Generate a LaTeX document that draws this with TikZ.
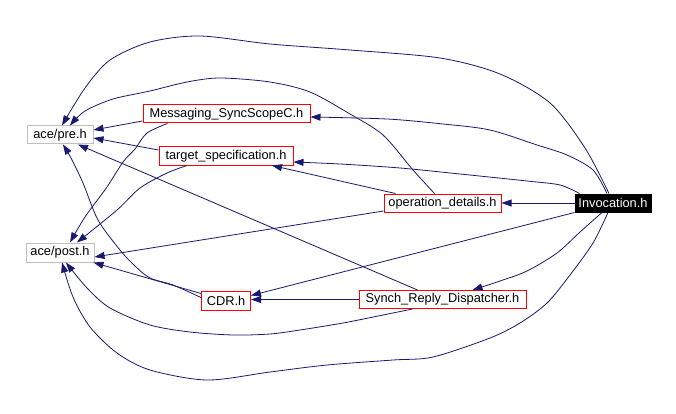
\documentclass[tikz,border=0pt]{standalone}
\usepackage{fontspec}
\setmainfont{Liberation Sans}
\usetikzlibrary{arrows.meta}
\definecolor{edgecol}{RGB}{25,25,112}
\definecolor{graybox}{RGB}{191,191,191}
\begin{document}
\begin{tikzpicture}[x=1pt,y=-1pt,
  box/.style={draw, rectangle, inner sep=0pt, line width=1pt, minimum height=18pt,
    font=\fontsize{12.8}{14}\selectfont, text=black},
  redbox/.style={box, draw=red},
  acebox/.style={box, draw=graybox},
  mainbox/.style={box, fill=black, draw=black, text=white},
  edge/.style={draw=edgecol, line width=0.8pt, -{Triangle[length=10pt,width=7pt]}, fill=none}
]
\useasboundingbox (0,0) rectangle (676,414);
\fill[white] (0,0) rectangle (676,414);

\node[acebox, minimum width=66pt] (pre) at (60,135) {ace/pre.h};
\node[redbox, minimum width=167pt] (msg) at (226.5,114) {Messaging\_SyncScopeC.h};
\node[redbox, minimum width=134pt] (tgt) at (226,156) {target\_specification.h};
\node[acebox, minimum width=68pt, minimum height=19pt] (post) at (60,252.5) {ace/post.h};
\node[redbox, minimum width=49pt, minimum height=19pt] (cdr) at (226,300.5) {CDR.h};
\node[redbox, minimum width=117pt] (op) at (442.5,203) {operation\_details.h};
\node[mainbox, minimum width=76pt] (inv) at (613,203) {Invocation.h};
\node[redbox, minimum width=167pt] (synch) at (442.5,299.5) {Synch\_Reply\_Dispatcher.h};

% Invocation -> ace/pre.h (top arc)
\draw[edge] plot[smooth] coordinates {([xshift=-4pt]inv.north) (585,148) (550,103) (500,74) (440,58) (350,50) (270,44) (200,36) (150,42) (110,60) (85,88) ([xshift=2pt]pre.north)};
% operation_details -> ace/pre.h
\draw[edge] plot[smooth] coordinates {([xshift=-8pt]op.north) (413,170) (383,135) (350,114) (310,92) (270,82) (220,78) (187,82) (150,91) (113,99) (85,111) ([xshift=10pt]pre.north)};
% Invocation -> Messaging
\draw[edge] plot[smooth] coordinates {([xshift=-6pt]inv.north) (593,170) (567,155) (537,145) (490,130) (443,124) (387,119) ([yshift=-3pt]msg.east)};
% Invocation -> target_specification
\draw[edge] plot[smooth] coordinates {([xshift=5pt]inv.north west) (560,185) (527,181) (460,174) (400,168) (340,164) ([yshift=-6pt]tgt.east)};
% Invocation -> operation_details
\draw[edge] (inv.west) -- (op.east);
% Invocation -> CDR
\draw[edge] (inv.south west) -- ([yshift=5pt]cdr.east);
% Invocation -> Synch_Reply_Dispatcher
\draw[edge] plot[smooth] coordinates {([xshift=-11pt]inv.south) (580,232) (557,253) (527,271) (500,281) ([xshift=30pt]synch.north)};
% Invocation -> ace/post.h (bottom arc)
\draw[edge] plot[smooth] coordinates {([xshift=-5pt]inv.south) (593,243) (570,275) (547,303) (520,323) (490,338) (433,357) (393,360) (327,365) (270,372) (207,380) (150,370) (117,353) (90,327) (73,297) ([xshift=2pt]post.south)};
% Synch -> ace/post.h
\draw[edge] plot[smooth] coordinates {([xshift=-30pt]synch.south) (383,315) (343,323) (300,330) (270,334) (233,335) (190,332) (150,325) (110,308) (87,288) ([xshift=6pt]post.south)};
% Synch -> CDR
\draw[edge] (synch.west) -- (synch.west -| cdr.east);
% Synch -> ace/pre.h
\draw[edge] ([xshift=-25pt]synch.north) -- ([xshift=18pt]pre.south);
% CDR -> ace/post.h
\draw[edge] ([yshift=7pt]cdr.west) -- ([xshift=-1pt]post.south east);
% CDR -> ace/pre.h
\draw[edge] plot[smooth] coordinates {([yshift=3pt]cdr.west) (173,285) (150,278) (135,266) (120,250) (98,220) (83,183) (71,158) ([xshift=3pt]pre.south)};
% Messaging -> ace/pre.h
\draw[edge] ([yshift=-7pt]msg.west) -- ([yshift=5pt]pre.east);
% Messaging -> ace/post.h
\draw[edge] plot[smooth] coordinates {([xshift=-59pt]msg.south) (147,133) (135,149) (123,162) (107,187) (85,217) ([xshift=10pt]post.north)};
% target_specification -> ace/pre.h
\draw[edge] ([yshift=6pt]tgt.west) -- ([yshift=-3pt]pre.east);
% target_specification -> ace/post.h
\draw[edge] plot[smooth] coordinates {([xshift=-39pt]tgt.south) (167,173) (140,188) (117,210) ([xshift=17pt]post.north)};
% operation_details -> target_specification
\draw[edge] ([xshift=12pt]op.north west) -- ([xshift=46pt]tgt.south);
% operation_details -> ace/post.h
\draw[edge] ([yshift=-8pt]op.west) -- ([yshift=-4.5pt]post.east);
\end{tikzpicture}
\end{document}
